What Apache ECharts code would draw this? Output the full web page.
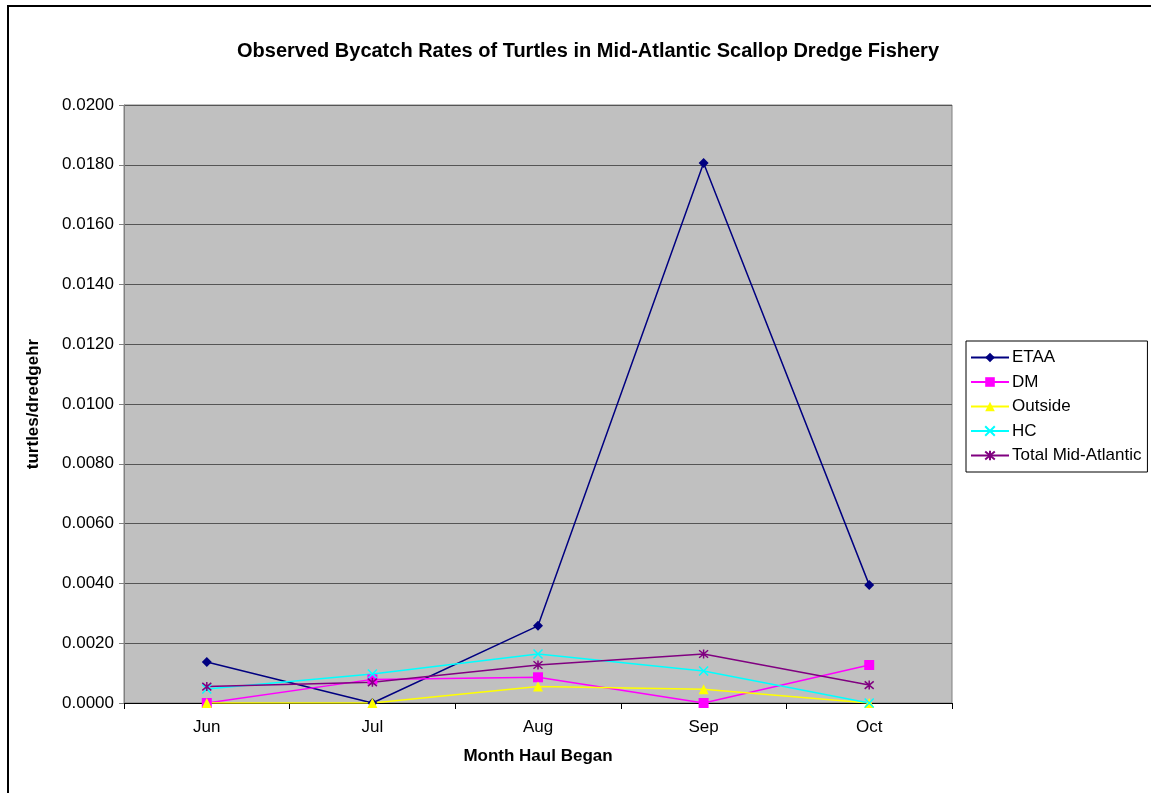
<!DOCTYPE html>
<html>
<head>
<meta charset="utf-8">
<script src="https://cdn.jsdelivr.net/npm/echarts@6/dist/echarts.min.js"></script>
<style>
  html, body { margin: 0; padding: 0; background: #fff; }
  #chart { width: 1151px; height: 793px; }
</style>
</head>
<body>
<div id="chart"></div>
<script>
// Months in which the haul began
const months = ['Jun', 'Jul', 'Aug', 'Sep', 'Oct'];

// Observed turtle bycatch rate (turtles per dredge hour) by area
const etaa = [0.00137, 0.0000, 0.00258, 0.01806, 0.00395];
const dm = [0.0000, 0.00079, 0.00086, 0.0000, 0.00127];
const outside = [0.0000, 0.0000, 0.00055, 0.00046, 0.0000];
const hc = [0.00047, 0.00097, 0.00164, 0.00107, 0.0000];
const totalMidAtlantic = [0.00055, 0.00069, 0.00127, 0.00164, 0.0006];

// Y-axis scale
const yMin = 0;
const yMax = 0.02;
const yStep = 0.002;

const FONT = 'Liberation Sans, Arial, sans-serif';

// Stroked marker shapes
const crossPath = 'path://M0,0 L10,10 M10,0 L0,10';
const starPath = 'path://M0,0 L10,10 M10,0 L0,10 M5,-1 L5,11';

function lineSeries(name, data, color, symbol, size, stroked) {
  return {
    name: name,
    type: 'line',
    data: data,
    symbol: symbol,
    symbolSize: size,
    showAllSymbol: true,
    lineStyle: { color: color, width: 1.5 },
    itemStyle: stroked
      ? { color: 'transparent', borderColor: color, borderWidth: 1.5 }
      : { color: color, borderWidth: 0 },
    emphasis: { disabled: true },
    animation: false,
    z: 3
  };
}

const chart = echarts.init(document.getElementById('chart'), null, { renderer: 'canvas' });

chart.setOption({
  backgroundColor: '#ffffff',
  animation: false,
  title: {
    text: 'Observed Bycatch Rates of Turtles in Mid-Atlantic Scallop Dredge Fishery',
    left: 583,
    top: 36,
    textAlign: 'center',
    textStyle: { fontFamily: FONT, fontSize: 20, fontWeight: 'bold', color: '#000' }
  },
  graphic: [{
    type: 'rect',
    shape: { x: 8, y: 6, width: 1300, height: 900 },
    style: { fill: 'none', stroke: '#000', lineWidth: 2 },
    silent: true,
    z: 100
  }],
  legend: {
    orient: 'vertical',
    left: 966,
    top: 341,
    itemWidth: 38,
    itemHeight: 12,
    itemGap: 7.5,
    padding: [8, 6, 8, 4],
    backgroundColor: '#ffffff',
    borderColor: '#000',
    borderWidth: 1,
    borderRadius: 0,
    textStyle: { fontFamily: FONT, fontSize: 17, color: '#000', padding: [0, 0, 0, -2] },
    data: ['ETAA', 'DM', 'Outside', 'HC', 'Total Mid-Atlantic']
  },
  grid: {
    left: 124,
    right: 199,
    top: 105,
    bottom: 90,
    show: true,
    backgroundColor: '#C0C0C0',
    borderColor: '#808080',
    borderWidth: 1
  },
  xAxis: {
    type: 'category',
    data: months,
    boundaryGap: true,
    name: 'Month Haul Began',
    nameLocation: 'middle',
    nameGap: 45,
    nameTextStyle: { fontFamily: FONT, fontSize: 17, fontWeight: 'bold', color: '#000' },
    axisLine: { show: true, lineStyle: { color: '#000', width: 1 } },
    axisTick: { show: true, length: 6, alignWithLabel: false, lineStyle: { color: '#000' } },
    axisLabel: { fontFamily: FONT, fontSize: 17, color: '#000', margin: 16 },
    splitLine: { show: false }
  },
  yAxis: {
    type: 'value',
    min: yMin,
    max: yMax,
    interval: yStep,
    name: 'turtles/dredgehr',
    nameLocation: 'middle',
    nameGap: 82,
    nameRotate: 90,
    nameTextStyle: { fontFamily: FONT, fontSize: 17, fontWeight: 'bold', color: '#000' },
    axisLine: { show: true, lineStyle: { color: '#808080', width: 1 } },
    axisTick: { show: true, length: 5, lineStyle: { color: '#808080' } },
    axisLabel: {
      fontFamily: FONT, fontSize: 17, color: '#000', margin: 10,
      formatter: function (v) { return v.toFixed(4); }
    },
    splitLine: { show: true, lineStyle: { color: '#555555', width: 1 } }
  },
  series: [
    lineSeries('ETAA', etaa, '#000080', 'diamond', 10, false),
    lineSeries('DM', dm, '#FF00FF', 'rect', 10, false),
    lineSeries('Outside', outside, '#FFFF00', 'triangle', 10, false),
    lineSeries('HC', hc, '#00FFFF', crossPath, 9, true),
    lineSeries('Total Mid-Atlantic', totalMidAtlantic, '#800080', starPath, 9, true)
  ]
});
</script>
</body>
</html>
